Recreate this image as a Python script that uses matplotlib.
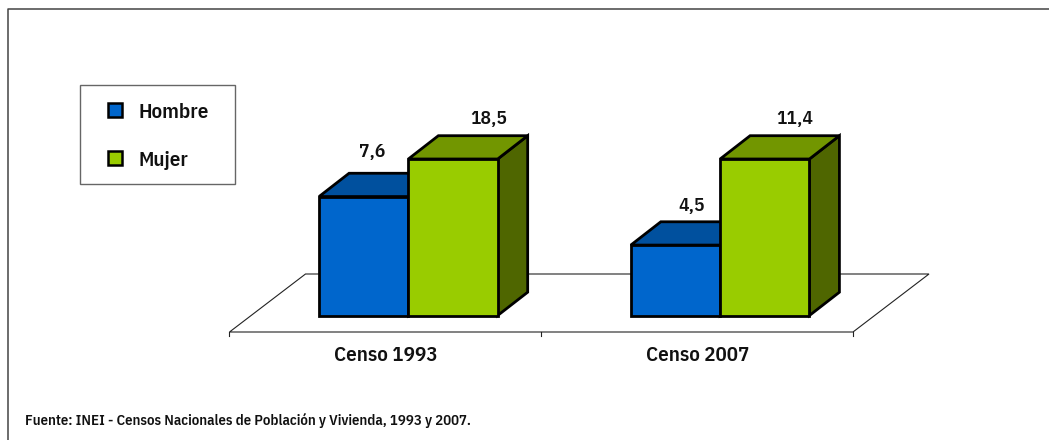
import matplotlib
matplotlib.use('Agg')
import matplotlib.pyplot as plt
from matplotlib.patches import Polygon, Rectangle
import numpy as np

W, H = 1049, 440

categories = ['Censo 1993', 'Censo 2007']
series_names = ['Hombre', 'Mujer']
hombre = [7.6, 4.5]
mujer = [18.5, 11.4]
value_labels_h = ['7,6', '4,5']
value_labels_m = ['18,5', '11,4']
source = 'Fuente: INEI - Censos Nacionales de Población y Vivienda, 1993 y 2007.'

front = ['#0066CC', '#99CC00']
top = ['#00509E', '#729600']
side = ['#003F7D', '#4F6600']

plt.rcParams['font.family'] = ['IBM Plex Sans Condensed', 'Roboto']
plt.rcParams['font.weight'] = 600
plt.rcParams['text.color'] = '#111111'

def px_rect(x0, y0, x1, y1):
    return [x0 / W, 1 - y1 / H, (x1 - x0) / W, (y1 - y0) / H]

fig = plt.figure(figsize=(W / 100, H / 100), dpi=100)

# background layer in pixel units for the frame, legend box and text
bg = fig.add_axes([0, 0, 1, 1])
bg.set_xlim(0, W)
bg.set_ylim(H, 0)
bg.axis('off')
bg.plot([7.5, 7.5, W], [H, 9, 9], color='#444444', lw=1.1)

# the value axis stops at 10, taller bars are cut there
ymax = 10
ax = fig.add_axes(px_rect(252.5, 159, 876, 315.5))
ax.set_xlim(-0.5, 1.5)
ax.set_ylim(0, ymax)
ax.axis('off')

ux = 623.5 / 2
uy = 156.5 / ymax
bw = 89.3 / ux
ddx = 30 / ux
ddy = 23.3 / uy

# floor
fx0, fx1 = -0.5 - 23 / ux, 1.5 - 23 / ux
fy0 = -16.5 / uy
fdx, fdy = 76 / ux, 58 / uy
ax.add_patch(Polygon([(fx0, fy0), (fx1, fy0), (fx1 + fdx, fy0 + fdy), (fx0 + fdx, fy0 + fdy)],
                     closed=True, fc='white', ec='#222222', lw=0.8, clip_on=False, zorder=1))
for xt in [fx0, (fx0 + fx1) / 2, fx1]:
    ax.plot([xt, xt], [fy0, fy0 - 0.25], color='#222222', lw=0.8, clip_on=False, zorder=1)


def bar3d(x0, h, i, z):
    x1 = x0 + bw
    kw = dict(closed=True, ec='black', lw=2.0, joinstyle='miter', clip_on=False, zorder=z)
    ax.add_patch(Polygon([(x1, 0), (x1 + ddx, ddy), (x1 + ddx, h + ddy), (x1, h)], fc=side[i], **kw))
    ax.add_patch(Polygon([(x0, h), (x1, h), (x1 + ddx, h + ddy), (x0 + ddx, h + ddy)], fc=top[i], **kw))
    ax.add_patch(Polygon([(x0, 0), (x1, 0), (x1, h), (x0, h)], fc=front[i], **kw))


xs = np.arange(len(categories))
shift_h = [8.5, 16]
rise_h = [45, 39]
shift_m = [36, 30]
for k in xs:
    hh = min(hombre[k], ymax)
    hm = min(mujer[k], ymax)
    bar3d(k - bw, hh, 0, 3 + k)
    bar3d(k, hm, 1, 4 + k)
    ax.text(k - bw / 2 + shift_h[k] / ux, hh + rise_h[k] / uy, value_labels_h[k],
            ha='center', va='center', fontsize=14, clip_on=False, zorder=9)
    ax.text(k + bw / 2 + shift_m[k] / ux, hm + 40 / uy, value_labels_m[k],
            ha='center', va='center', fontsize=14, clip_on=False, zorder=9)
    ax.text(k - 23 / ux, fy0 - 23 / uy, categories[k],
            ha='center', va='center', fontsize=15, clip_on=False, zorder=9)

# legend
bg.add_patch(Rectangle((79.5, 85.5), 155, 99, fc='white', ec='#666666', lw=1.0, zorder=5))
for name, col, y in zip(series_names, front, [110, 158]):
    bg.add_patch(Rectangle((108, y - 6.5), 14, 13.5, fc=col, ec='black', lw=1.8, zorder=6))
    bg.text(138, y + 2, name, ha='left', va='center', fontsize=15, zorder=6)

bg.text(25, 420, source, ha='left', va='center', fontsize=10.6)

fig.savefig('out.png', dpi=100)
